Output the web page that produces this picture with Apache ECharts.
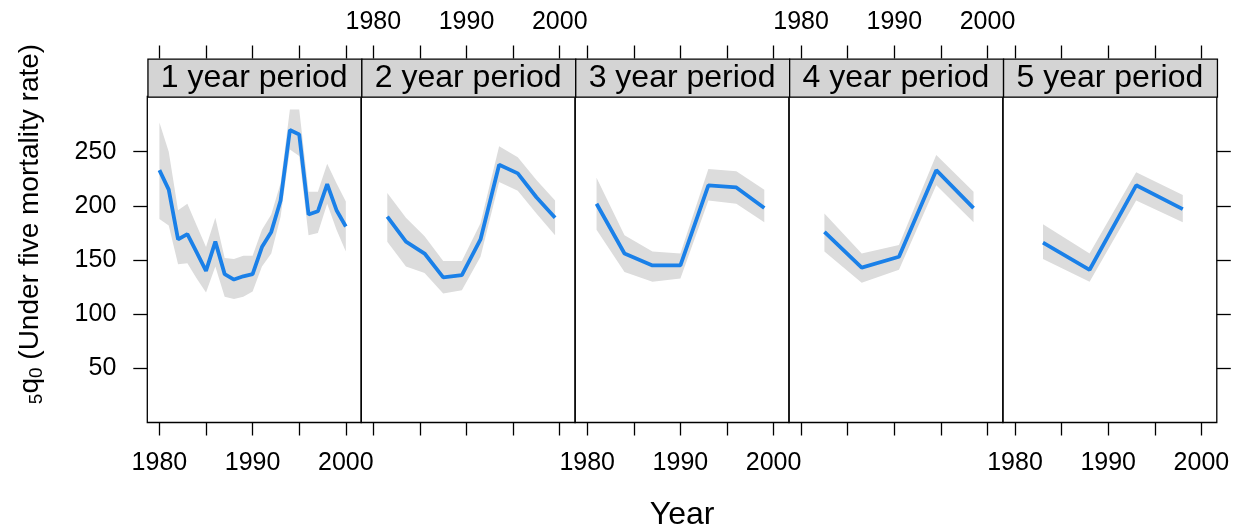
<!DOCTYPE html>
<html>
<head>
<meta charset="utf-8">
<script src="https://cdn.jsdelivr.net/npm/echarts@6/dist/echarts.min.js"></script>
<style>html,body{margin:0;padding:0;background:#fff}#c{width:1234px;height:531px}</style>
</head>
<body>
<div id="c"></div>
<script>
// ---- data ----
const panelNames = ['1 year period', '2 year period', '3 year period', '4 year period', '5 year period'];
const xTickValues = [1980, 1985, 1990, 1995, 2000];
const xLabelValues = [1980, 1990, 2000];
const yLabelValues = [50, 100, 150, 200, 250];

const years1 = [1980,1981,1982,1983,1984,1985,1986,1987,1988,1989,1990,1991,1992,1993,1994,1995,1996,1997,1998,1999,2000];
const rate1  = [233,215,169,174,157,140,167,137,132,135,137,162,176,205,270,266,192,195,220,196,181];
const lower1 = [188,182,146,147,133,120,144,116,114,116,121,144,156,190,252,246,173,175,202,178,158];
const upper1 = [277,250,196,202,182,162,189,152,151,154,154,178,192,221,289,289,213,213,239,221,204];

const years2 = [1981.5,1983.5,1985.5,1987.5,1989.5,1991.5,1993.5,1995.5,1997.5,1999.5];
const rate2  = [190,167,156,134,136,169,238,230,208,189];
const lower2 = [167,144,138,119,122,153,222,214,193,173];
const upper2 = [212,189,172,149,149,184,255,245,224,205];

const years3 = [1981,1984,1987,1990,1993,1996,1999];
const rate3  = [202,156,145,145,219,217,198];
const lower3 = [178,139,130,133,205,202,185];
const upper3 = [226,173,158,156,234,232,215];

const years4 = [1982.5,1986.5,1990.5,1994.5,1998.5];
const rate4  = [176,143,153,233,198];
const lower4 = [158,129,141,219,185];
const upper4 = [193,156,164,247,213];

const years5 = [1983,1988,1993,1998];
const rate5  = [166,141,219,197];
const lower5 = [151,130,205,185];
const upper5 = [183,156,231,210];

const panels = [
  {years: years1, rate: rate1, lower: lower1, upper: upper1},
  {years: years2, rate: rate2, lower: lower2, upper: upper2},
  {years: years3, rate: rate3, lower: lower3, upper: upper3},
  {years: years4, rate: rate4, lower: lower4, upper: upper4},
  {years: years5, rate: rate5, lower: lower5, upper: upper5}
];

// ---- layout ----
const L0 = 147.3, PW = 213.9, TOP = 96.5, PH = 326, STRIP = 38;
const FONT = '"Liberation Sans", Arial, sans-serif';
const LINE_COLOR = '#1a80e8';
const BAND_COLOR = '#dcdcdc';
const fmt = v => String(v);

const grids = [], xAxes = [], yAxes = [], series = [], graphics = [];

panels.forEach((p, i) => {
  grids.push({left: L0 + i * PW, top: TOP, width: PW, height: PH, show: true,
    borderColor: '#000', borderWidth: 1.3, backgroundColor: 'transparent', containLabel: false, outerBoundsMode: 'none'});
  // bottom axis
  xAxes.push({type: 'value', gridIndex: i, position: 'bottom', min: 1978.7, max: 2001.65,
    axisLine: {show: false}, splitLine: {show: false},
    axisTick: {show: true, inside: false, length: 13, lineStyle: {color: '#000', width: 1.3}, customValues: xTickValues},
    axisLabel: {show: i % 2 === 0, margin: 28, fontSize: 25, fontFamily: FONT, color: '#000', customValues: xLabelValues, formatter: fmt}
  });
  // top axis (above strip)
  xAxes.push({type: 'value', gridIndex: i, position: 'top', offset: STRIP, min: 1978.7, max: 2001.65,
    axisLine: {show: false}, splitLine: {show: false},
    axisTick: {show: true, inside: false, length: 13, lineStyle: {color: '#000', width: 1.3}, customValues: xTickValues},
    axisLabel: {show: i % 2 === 1, margin: 24, fontSize: 25, fontFamily: FONT, color: '#000', customValues: xLabelValues, formatter: fmt}
  });
  // y axis
  yAxes.push({type: 'value', gridIndex: i, min: 0, max: 301,
    position: i === 4 ? 'right' : 'left',
    axisLine: {show: false}, splitLine: {show: false},
    axisTick: {show: i === 0 || i === 4, inside: false, length: 14, lineStyle: {color: '#000', width: 1.3}, customValues: yLabelValues},
    axisLabel: {show: i === 0, margin: 31, fontSize: 25, fontFamily: FONT, color: '#000', customValues: yLabelValues, formatter: fmt}
  });

  const bandData = p.years.map((y, k) => [y, p.lower[k], p.upper[k]]);
  series.push({
    type: 'custom', xAxisIndex: 2 * i, yAxisIndex: i, silent: true, z: 1,
    data: bandData,
    encode: {x: 0, y: [1, 2]},
    renderItem: function (params, api) {
      if (params.dataIndex !== 0) return null;
      const pts = [];
      for (let k = 0; k < bandData.length; k++) pts.push(api.coord([bandData[k][0], bandData[k][2]]));
      for (let k = bandData.length - 1; k >= 0; k--) pts.push(api.coord([bandData[k][0], bandData[k][1]]));
      return {type: 'polygon', shape: {points: pts}, style: {fill: BAND_COLOR, stroke: null}};
    }
  });
  series.push({
    type: 'line', xAxisIndex: 2 * i, yAxisIndex: i, z: 3, symbol: 'none', silent: true,
    data: p.years.map((y, k) => [y, p.rate[k]]),
    lineStyle: {color: LINE_COLOR, width: 3.8}
  });

  graphics.push({type: 'rect', left: L0 + i * PW, top: TOP - STRIP, z: 10,
    shape: {width: PW, height: STRIP}, style: {fill: '#d4d4d4', stroke: '#000', lineWidth: 1.3}});
  graphics.push({type: 'text', x: L0 + i * PW + PW / 2, y: TOP - STRIP / 2 + 1, z: 11,
    style: {text: panelNames[i], align: 'center', verticalAlign: 'middle', font: '32px ' + FONT, fill: '#000'}});
});

graphics.push({type: 'text', x: L0 + 2.5 * PW, y: 515, z: 11,
  style: {text: 'Year', align: 'center', verticalAlign: 'middle', font: '32px ' + FONT, fill: '#000'}});
graphics.push({type: 'text', x: 30, y: 224, rotation: Math.PI / 2, z: 11,
  style: {text: '{s|5}q{s|0} (Under five mortality rate)', align: 'center', verticalAlign: 'middle',
    font: '28px ' + FONT, fill: '#000',
    rich: {s: {fontSize: 19, fontFamily: FONT, fill: '#000', padding: [14, 0, 0, 0]}}}});

const chart = echarts.init(document.getElementById('c'), null, {renderer: 'canvas'});
chart.setOption({
  animation: false,
  backgroundColor: '#fff',
  grid: grids, xAxis: xAxes, yAxis: yAxes, series: series, graphic: graphics
});
</script>
</body>
</html>
